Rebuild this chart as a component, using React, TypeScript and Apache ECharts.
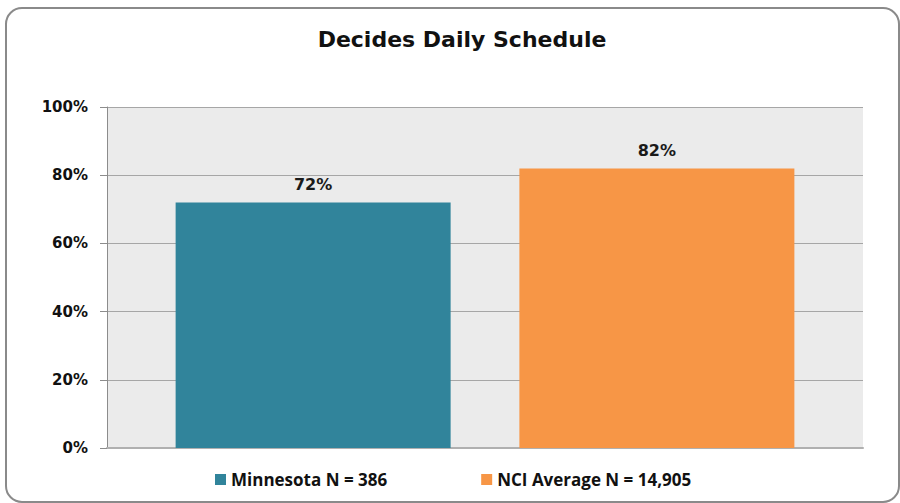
import React, { useEffect, useRef } from "react";
import * as echarts from "echarts";

const categories = ["Decides Daily Schedule"];
const seriesNames = ["Minnesota N = 386", "NCI Average N = 14,905"];
const minnesotaValues = [72];
const nciValues = [82];
const seriesColors = ["#31849b", "#f79646"];

const WIDE = "'DejaVu Sans', sans-serif";
const FONT = "'Open Sans', sans-serif";

export default function App() {
  const ref = useRef<HTMLDivElement>(null);
  useEffect(() => {
    if (!ref.current) return;
    const chart = echarts.init(ref.current, null, { renderer: "svg" });
    const labelStyle = {
      show: true,
      position: "top" as const,
      formatter: "{c}%",
      fontFamily: WIDE,
      fontWeight: "bold" as const,
      fontSize: 16,
      color: "#1a1a1a",
      distance: 10,
    };
    chart.setOption({
      animation: false,
      backgroundColor: "#fff",
      title: {
        text: "Decides Daily Schedule",
        left: 457,
        textAlign: "center",
        top: 23,
        textStyle: { fontFamily: WIDE, fontWeight: "bold", fontSize: 22, color: "#111" },
      },
      graphic: [
        {
          type: "rect",
          shape: { x: 6, y: 8, width: 893, height: 494, r: 16 },
          style: { fill: "none", stroke: "#8a8a8a", lineWidth: 2 },
          silent: true,
        },
      ],
      legend: {
        left: 210,
        top: 466,
        icon: "rect",
        itemWidth: 11,
        itemHeight: 11,
        itemGap: 94,
        itemStyle: { borderWidth: 0 },
        data: seriesNames,
        textStyle: { fontFamily: FONT, fontWeight: "bold", fontSize: 17, color: "#111" },
      },
      grid: {
        left: 107,
        right: 37,
        top: 107,
        bottom: 55,
        show: true,
        backgroundColor: "#ebebeb",
        borderWidth: 0,
      },
      xAxis: {
        type: "category",
        data: categories,
        axisLabel: { show: false },
        axisTick: { show: false },
        axisLine: { show: true, lineStyle: { color: "#b0b0b0", width: 2 } },
      },
      yAxis: {
        type: "value",
        min: 0,
        max: 100,
        interval: 20,
        axisLabel: {
          formatter: "{value}%",
          fontFamily: WIDE,
          fontWeight: "bold",
          fontSize: 15,
          color: "#111",
          margin: 19,
        },
        axisLine: { show: true, lineStyle: { color: "#8c8c8c" } },
        axisTick: { show: true, length: 7, lineStyle: { color: "#8c8c8c" } },
        splitLine: { lineStyle: { color: "#a6a6a6", width: 1 } },
      },
      series: [
        {
          name: seriesNames[0],
          type: "bar",
          data: minnesotaValues,
          barWidth: 275,
          barGap: "25%",
          itemStyle: { color: seriesColors[0] },
          label: labelStyle,
        },
        {
          name: seriesNames[1],
          type: "bar",
          data: nciValues,
          barWidth: 275,
          barGap: "25%",
          itemStyle: { color: seriesColors[1] },
          label: labelStyle,
        },
      ],
    });
    return () => chart.dispose();
  }, []);
  return <div ref={ref} style={{ width: 900, height: 503, position: "absolute", left: 0, top: 0 }} />;
}
